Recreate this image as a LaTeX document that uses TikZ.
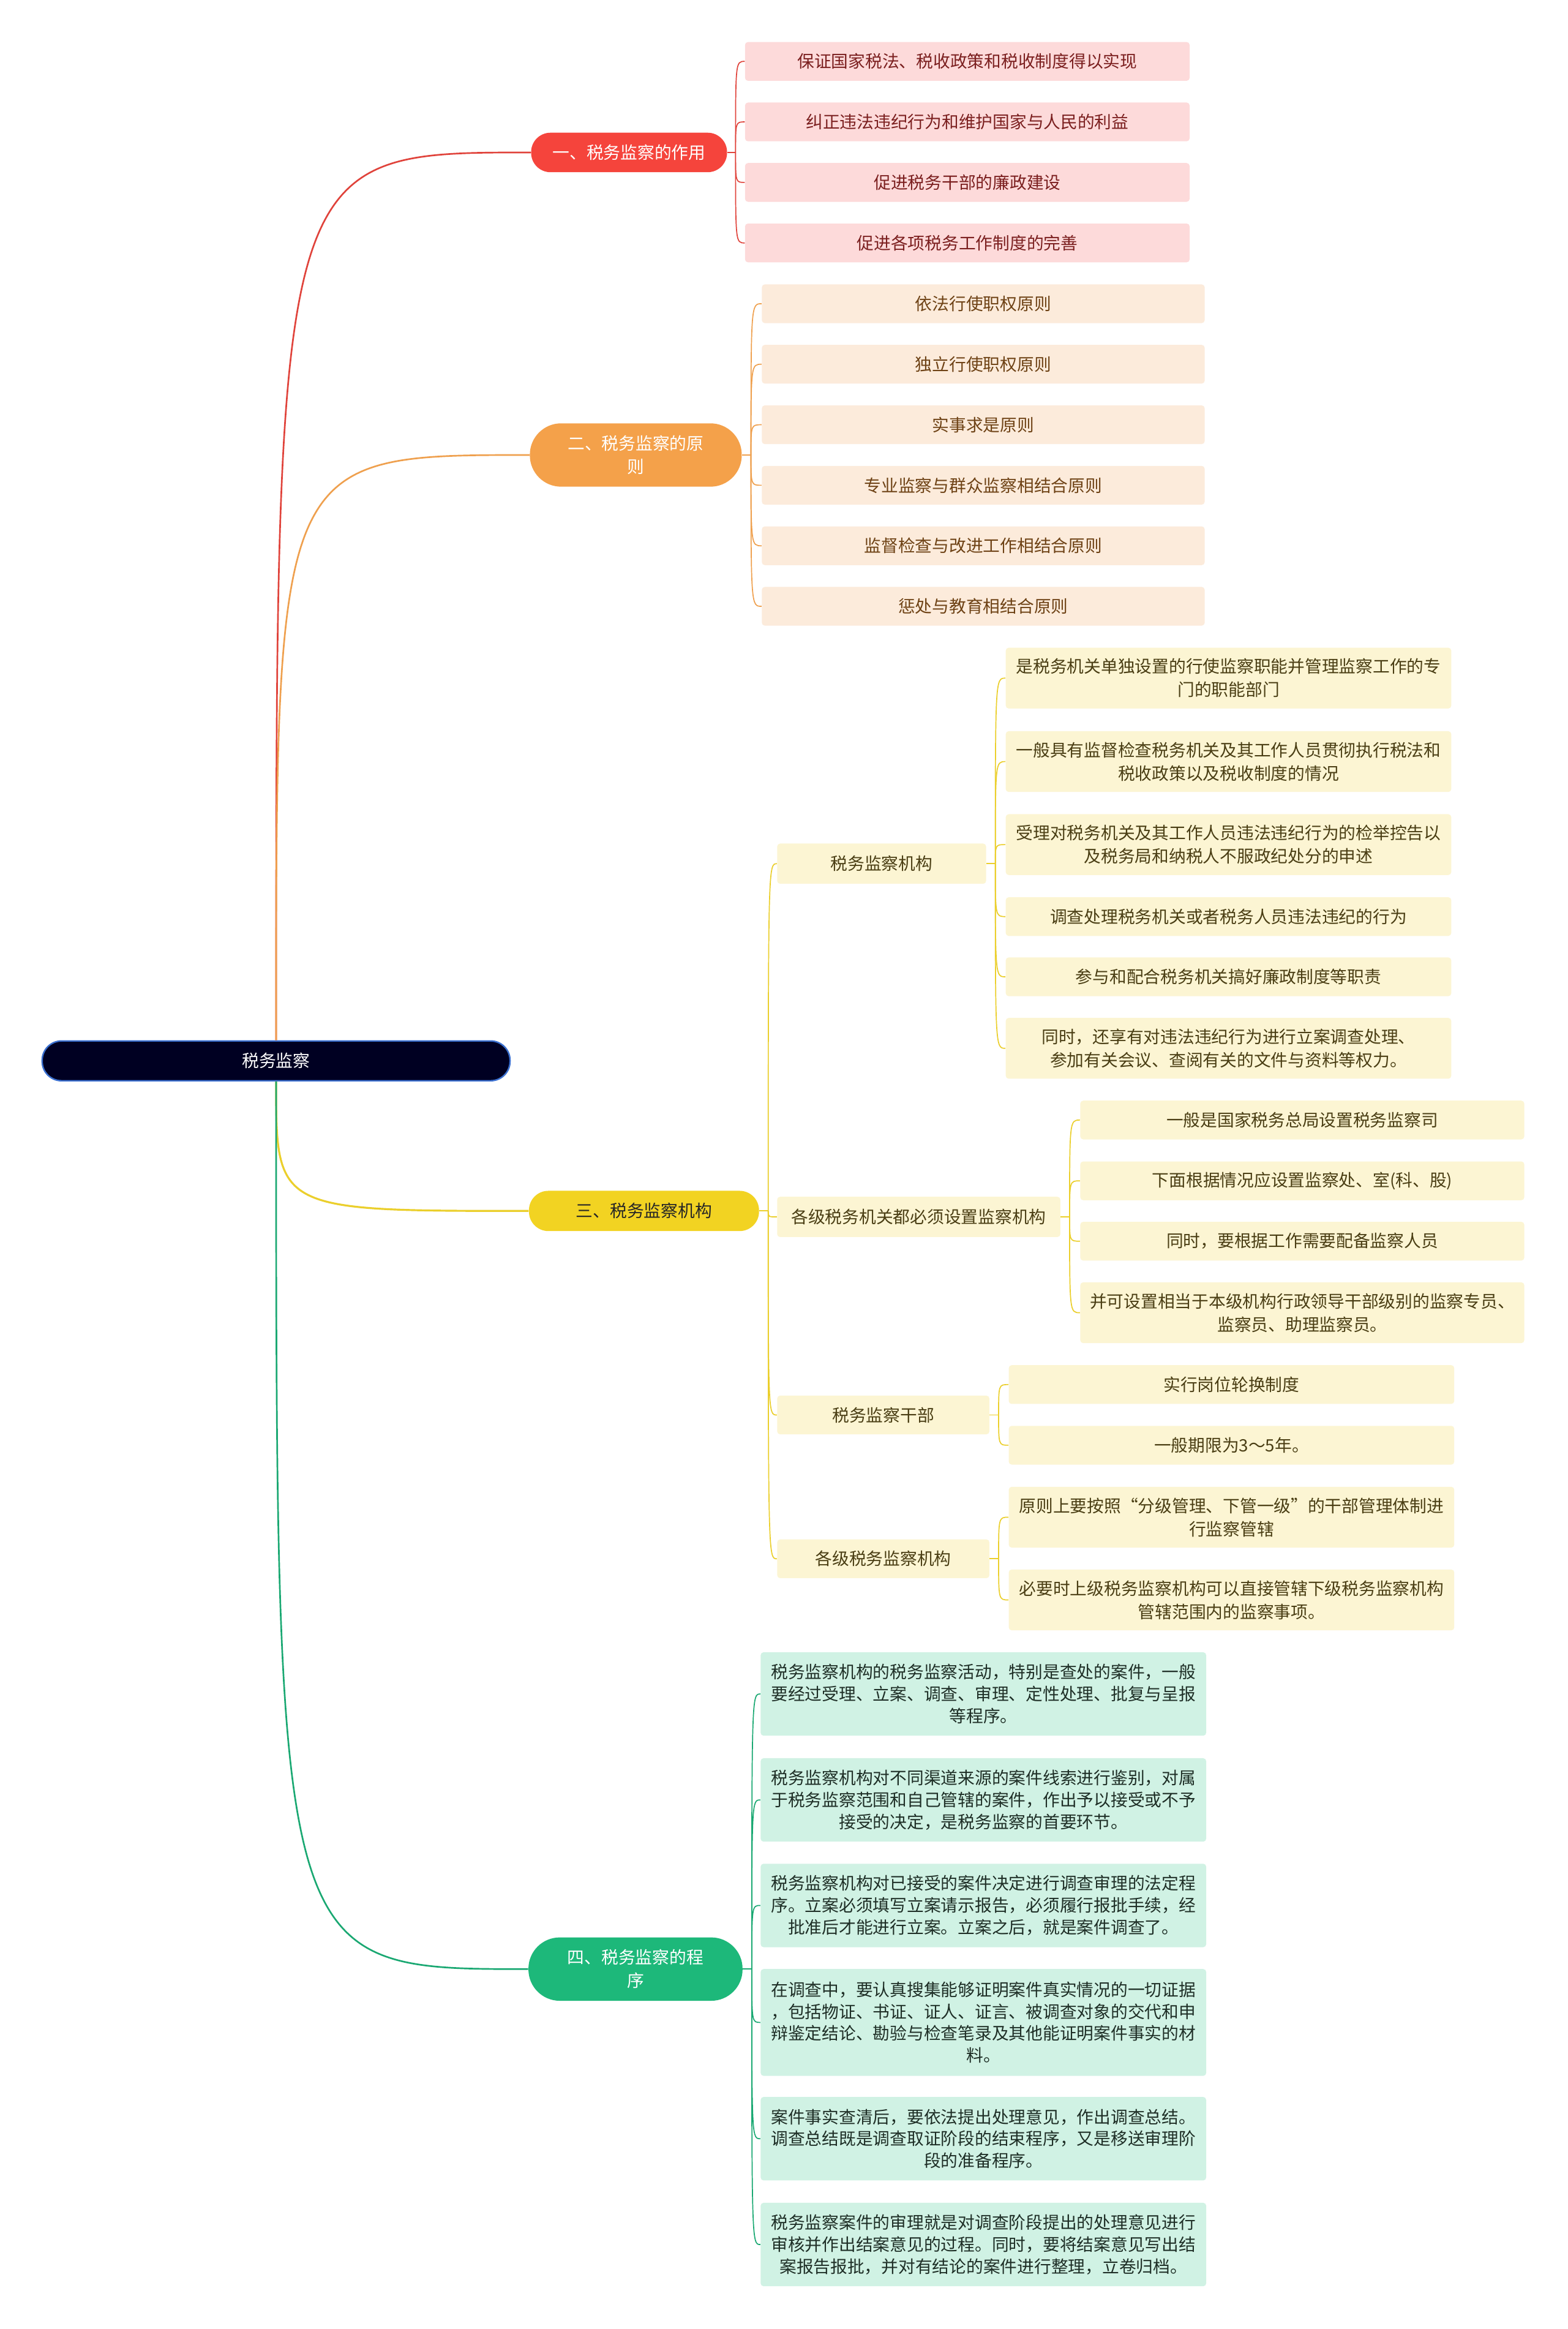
\documentclass[tikz,border=0pt]{standalone}
\usepackage{fontspec}
\setmainfont{Noto Sans CJK SC}
\usetikzlibrary{positioning}

\definecolor{rootF}{HTML}{000022}
\definecolor{rootB}{HTML}{3B70D0}
\definecolor{redB}{HTML}{F5443C}
\definecolor{redL}{HTML}{FDDADA}
\definecolor{redT}{HTML}{7B1F1F}
\definecolor{redC}{HTML}{E0433B}
\definecolor{orgB}{HTML}{F4A14A}
\definecolor{orgL}{HTML}{FCEBDB}
\definecolor{orgT}{HTML}{6E4215}
\definecolor{orgC}{HTML}{EFA04E}
\definecolor{yelB}{HTML}{F2D322}
\definecolor{yelL}{HTML}{FCF5D3}
\definecolor{yelT}{HTML}{4A3E14}
\definecolor{yelC}{HTML}{EBCF2C}
\definecolor{grnB}{HTML}{1DB87A}
\definecolor{grnL}{HTML}{D0F2E4}
\definecolor{grnT}{HTML}{1E2E26}
\definecolor{grnC}{HTML}{1AA872}

\tikzset{
  box/.style={rectangle, align=center, inner sep=0pt, font=\fontsize{11.4}{15.6}\selectfont},
  leaf/.style={box, rounded corners=2pt, minimum height=26pt},
  root/.style={box, fill=rootF, draw=rootB, line width=1pt, text=white,
    rounded corners=13pt, minimum width=314pt, minimum height=26.7pt},
  pill/.style={box, rounded corners=13pt, minimum height=26.5pt},
  pilltwo/.style={box, rounded corners=21pt, minimum height=42.5pt},
  leafR/.style={leaf, fill=redL, text=redT, minimum width=298.4pt},
  leafO/.style={leaf, fill=orgL, text=orgT, minimum width=297.2pt},
  leafY/.style={leaf, fill=yelL, text=yelT, minimum width=299pt},
  leafG/.style={leaf, fill=grnL, text=grnT, minimum width=299pt,
    font=\fontsize{11.4}{14.7}\selectfont},
  mainR/.style={draw=redC, line width=1.1pt},
  mainO/.style={draw=orgC, line width=1.1pt},
  mainY/.style={draw=yelC, line width=1.3pt},
  mainG/.style={draw=grnC, line width=1.1pt},
  subR/.style={draw=redC, line width=0.7pt},
  subO/.style={draw=orgC, line width=0.7pt},
  subY/.style={draw=yelC, line width=0.7pt},
  subG/.style={draw=grnC, line width=0.7pt}
}

\begin{document}
\begin{tikzpicture}[x=1pt, y=-1pt, node distance=40.6pt, on grid]
  \fill[white] (0,0) rectangle (1052,1562.7);
  \useasboundingbox (0,0) rectangle (1052,1562.7);

  % root and main branches
  \node[root] (root) at (185.3,711.8) {税务监察};
  \node[pill, fill=redB, text=white, minimum width=131.5pt] (b1) at (422.2,102.3) {一、税务监察的作用};
  \node[pilltwo, fill=orgB, text=white, minimum width=142.2pt] (b2) at (426.7,305.3) {二、税务监察的原\\则};
  \node[pill, fill=yelB, text=black!85, minimum width=154.4pt, minimum height=27pt] (b3) at (432.2,812.5) {三、税务监察机构};
  \node[pilltwo, fill=grnB, text=white, minimum width=143.7pt] (b4) at (426.5,1321.2) {四、税务监察的程\\序};

  % branch 1
  \node[leafR] (r1) at (649.2,41.2) {保证国家税法、税收政策和税收制度得以实现};
  \node[leafR] (r2) [below=of r1] {纠正违法违纪行为和维护国家与人民的利益};
  \node[leafR] (r3) [below=of r2] {促进税务干部的廉政建设};
  \node[leafR] (r4) [below=of r3] {促进各项税务工作制度的完善};

  % branch 2
  \node[leafO] (o1) at (659.9,203.8) {依法行使职权原则};
  \node[leafO] (o2) [below=of o1] {独立行使职权原则};
  \node[leafO] (o3) [below=of o2] {实事求是原则};
  \node[leafO] (o4) [below=of o3] {专业监察与群众监察相结合原则};
  \node[leafO] (o5) [below=of o4] {监督检查与改进工作相结合原则};
  \node[leafO] (o6) [below=of o5] {惩处与教育相结合原则};

  % branch 3
  \node[leaf, fill=yelL, text=yelT, minimum width=140.2pt, minimum height=27pt] (s1) at (591.7,579.5) {税务监察机构};
  \node[leaf, fill=yelL, text=yelT, minimum width=190.1pt, minimum height=27pt] (s2) at (616.6,816.5) {各级税务机关都必须设置监察机构};
  \node[leaf, fill=yelL, text=yelT, minimum width=142.4pt, minimum height=26pt] (s3) at (592.8,949.4) {税务监察干部};
  \node[leaf, fill=yelL, text=yelT, minimum width=142.4pt, minimum height=26pt] (s4) at (592.8,1045.9) {各级税务监察机构};

  \node[leafY, minimum height=40.8pt] (a1) at (824.5,455) {是税务机关单独设置的行使监察职能并管理监察工作的专\\门的职能部门};
  \node[leafY, minimum height=40.8pt] (a2) at (824.5,511) {一般具有监督检查税务机关及其工作人员贯彻执行税法和\\税收政策以及税收制度的情况};
  \node[leafY, minimum height=40.8pt] (a3) at (824.5,566.7) {受理对税务机关及其工作人员违法违纪行为的检举控告以\\及税务局和纳税人不服政纪处分的申述};
  \node[leafY] (a4) at (824.5,615) {调查处理税务机关或者税务人员违法违纪的行为};
  \node[leafY] (a5) at (824.5,655.4) {参与和配合税务机关搞好廉政制度等职责};
  \node[leafY, minimum height=40.8pt] (a6) at (824.5,703.4) {同时，还享有对违法违纪行为进行立案调查处理、\\参加有关会议、查阅有关的文件与资料等权力。};

  \node[leafY, minimum width=298pt] (c1) at (874,751.5) {一般是国家税务总局设置税务监察司};
  \node[leafY, minimum width=298pt] (c2) at (874,792.3) {下面根据情况应设置监察处、室(科、股)};
  \node[leafY, minimum width=298pt] (c3) at (874,832.8) {同时，要根据工作需要配备监察人员};
  \node[leafY, minimum width=298pt, minimum height=40.8pt] (c4) at (874,880.8) {并可设置相当于本级机构行政领导干部级别的监察专员、\\监察员、助理监察员。};

  \node[leafY] (d1) at (826.5,929) {实行岗位轮换制度};
  \node[leafY] (d2) at (826.5,969.7) {一般期限为3～5年。};

  \node[leafY, minimum height=40.8pt] (e1) at (826.5,1018) {原则上要按照“分级管理、下管一级”的干部管理体制进\\行监察管辖};
  \node[leafY, minimum height=40.8pt] (e2) at (826.5,1073.5) {必要时上级税务监察机构可以直接管辖下级税务监察机构\\管辖范围内的监察事项。};

  % branch 4
  \node[leafG, minimum height=56pt] (g1) at (660,1136.6) {税务监察机构的税务监察活动，特别是查处的案件，一般\\要经过受理、立案、调查、审理、定性处理、批复与呈报\\等程序。};
  \node[leafG, minimum height=56pt] (g2) at (660,1207.7) {税务监察机构对不同渠道来源的案件线索进行鉴别，对属\\于税务监察范围和自己管辖的案件，作出予以接受或不予\\接受的决定，是税务监察的首要环节。};
  \node[leafG, minimum height=56pt] (g3) at (660,1278.5) {税务监察机构对已接受的案件决定进行调查审理的法定程\\序。立案必须填写立案请示报告，必须履行报批手续，经\\批准后才能进行立案。立案之后，就是案件调查了。};
  \node[leafG, minimum height=71.7pt] (g4) at (660,1357) {在调查中，要认真搜集能够证明案件真实情况的一切证据\\，包括物证、书证、证人、证言、被调查对象的交代和申\\辩鉴定结论、勘验与检查笔录及其他能证明案件事实的材\\料。};
  \node[leafG, minimum height=56pt] (g5) at (660,1435) {案件事实查清后，要依法提出处理意见，作出调查总结。\\调查总结既是调查取证阶段的结束程序，又是移送审理阶\\段的准备程序。};
  \node[leafG, minimum height=56pt] (g6) at (660,1506) {税务监察案件的审理就是对调查阶段提出的处理意见进行\\审核并作出结案意见的过程。同时，要将结案意见写出结\\案报告报批，并对有结论的案件进行整理，立卷归档。};

  % root to branches
  \draw[mainR] (root.north) .. controls (root.north |- b1.west) .. (b1.west);
  \draw[mainO] (root.north) .. controls (root.north |- b2.west) .. (b2.west);
  \draw[mainY] (root.south) .. controls (root.south |- b3.west) .. (b3.west);
  \draw[mainG] (root.south) .. controls (root.south |- b4.west) .. (b4.west);

  % branches to leaves
  \draw[subR] (b1.east) -- ++(5.5,0) coordinate (j1);
  \foreach \n in {r1,r2,r3,r4}
    \draw[subR] (j1) .. controls (j1 |- \n.west) .. (\n.west);
  \draw[subO] (b2.east) -- ++(6,0) coordinate (j2);
  \foreach \n in {o1,o2,o3,o4,o5,o6}
    \draw[subO] (j2) .. controls (j2 |- \n.west) .. (\n.west);
  \draw[subY] (b3.east) -- ++(6,0) coordinate (j3);
  \foreach \n in {s1,s2,s3,s4}
    \draw[subY] (j3) .. controls (j3 |- \n.west) .. (\n.west);
  \draw[subY] (s1.east) -- ++(6,0) coordinate (k1);
  \foreach \n in {a1,a2,a3,a4,a5,a6}
    \draw[subY] (k1) .. controls (k1 |- \n.west) .. (\n.west);
  \draw[subY] (s2.east) -- ++(6,0) coordinate (k2);
  \foreach \n in {c1,c2,c3,c4}
    \draw[subY] (k2) .. controls (k2 |- \n.west) .. (\n.west);
  \draw[subY] (s3.east) -- ++(6,0) coordinate (k3);
  \foreach \n in {d1,d2}
    \draw[subY] (k3) .. controls (k3 |- \n.west) .. (\n.west);
  \draw[subY] (s4.east) -- ++(6,0) coordinate (k4);
  \foreach \n in {e1,e2}
    \draw[subY] (k4) .. controls (k4 |- \n.west) .. (\n.west);
  \draw[subG] (b4.east) -- ++(6,0) coordinate (j4);
  \foreach \n in {g1,g2,g3,g4,g5,g6}
    \draw[subG] (j4) .. controls (j4 |- \n.west) .. (\n.west);
\end{tikzpicture}
\end{document}
